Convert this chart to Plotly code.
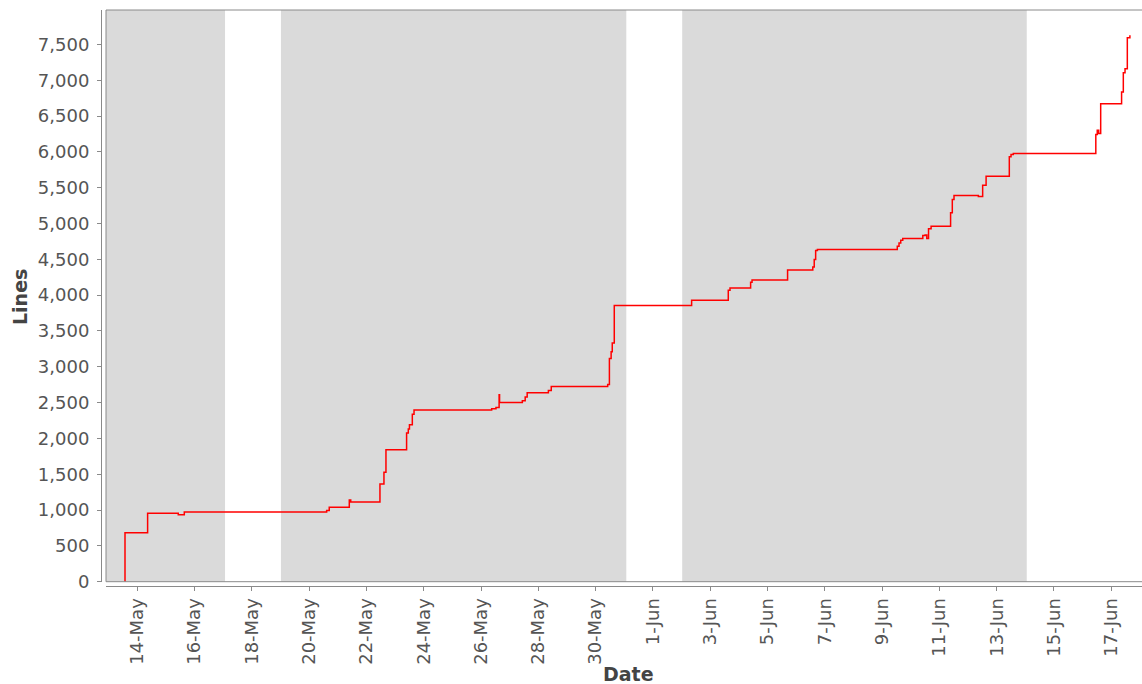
import plotly.graph_objects as go

# Step data: cumulative lines of code over time
times = [
    "2008-05-13 13:40", "2008-05-13 13:41", "2008-05-14 08:38", "2008-05-15 10:19",
    "2008-05-15 15:22", "2008-05-20 14:38", "2008-05-20 16:48", "2008-05-21 09:36",
    "2008-05-21 10:48", "2008-05-22 11:17", "2008-05-22 14:38", "2008-05-22 16:19",
    "2008-05-23 09:36", "2008-05-23 11:02", "2008-05-23 12:00", "2008-05-23 14:24",
    "2008-05-23 15:50", "2008-05-26 08:53", "2008-05-26 12:29", "2008-05-26 15:07",
    "2008-05-26 15:30", "2008-05-27 10:34", "2008-05-27 12:58", "2008-05-27 14:38",
    "2008-05-28 08:24", "2008-05-28 10:48", "2008-05-30 10:05", "2008-05-30 11:31",
    "2008-05-30 12:58", "2008-05-30 13:55", "2008-05-30 15:36", "2008-06-02 08:24",
    "2008-06-03 15:07", "2008-06-03 16:34", "2008-06-04 09:50", "2008-06-04 11:02",
    "2008-06-05 16:48", "2008-06-06 13:55", "2008-06-06 15:07", "2008-06-06 16:19",
    "2008-06-06 17:46", "2008-06-09 12:43", "2008-06-09 14:10", "2008-06-09 15:36",
    "2008-06-09 17:17", "2008-06-10 10:05", "2008-06-10 12:00", "2008-06-10 13:26",
    "2008-06-10 14:53", "2008-06-10 17:02", "2008-06-11 09:22", "2008-06-11 10:48",
    "2008-06-11 12:14", "2008-06-12 08:38", "2008-06-12 12:14", "2008-06-12 15:07",
    "2008-06-13 10:34", "2008-06-13 12:00", "2008-06-13 13:55", "2008-06-16 11:02",
    "2008-06-16 12:14", "2008-06-16 13:26", "2008-06-16 15:07", "2008-06-17 08:38",
    "2008-06-17 10:05", "2008-06-17 11:31", "2008-06-17 13:26", "2008-06-17 15:36",
]
lines = [
    0, 685, 956, 936,
    974, 995, 1040, 1142,
    1114, 1365, 1529, 1841,
    2074, 2130, 2190, 2339,
    2395, 2414, 2432, 2609,
    2502, 2525, 2577, 2637,
    2670, 2725, 2753, 3117,
    3210, 3332, 3857, 3927,
    4067, 4100, 4179, 4212,
    4352, 4394, 4496, 4622,
    4636, 4682, 4729, 4766,
    4790, 4832, 4841, 4790,
    4925, 4962, 5149, 5335,
    5391, 5377, 5535, 5661,
    5932, 5964, 5978, 6243,
    6303, 6257, 6672, 6835,
    7105, 7161, 7594, 7627,
]

# Weekday (shaded) periods
band_starts = ["2008-05-12 21:46", "2008-05-19 00:20", "2008-06-02 00:30"]
band_ends = ["2008-05-17 01:30", "2008-05-31 01:40", "2008-06-14 01:10"]

x_range = ["2008-05-12 21:46", "2008-06-18 01:44"]
y_range = [0, 7980]

x_title = "Date"
y_title = "Lines"

fig = go.Figure()
fig.add_trace(go.Scatter(
    x=times, y=lines, mode="lines", line=dict(color="#FF0000", width=1.5, shape="hv"),
    showlegend=False, hoverinfo="x+y",
))

shapes = []
for s, e in zip(band_starts, band_ends):
    shapes.append(dict(type="rect", xref="x", yref="y domain", x0=s, x1=e, y0=0, y1=1,
                       fillcolor="#DADADA", line=dict(width=0), layer="below"))
shapes.append(dict(type="rect", xref="x domain", yref="y domain", x0=0, x1=1.004, y0=0, y1=1,
                   line=dict(color="#8A8A8A", width=1), layer="above"))

tick_font = dict(family="DejaVu Sans", size=18, color="#555555")
title_font = dict(family="DejaVu Sans", size=19, color="#444444")

annotations = [
    dict(text=f"<b>{x_title}</b>", xref="paper", yref="paper", x=(628 - 101) / 1041,
         y=(586 - 674) / 576, xanchor="center", yanchor="middle", showarrow=False,
         font=title_font),
    dict(text=f"<b>{y_title}</b>", xref="paper", yref="paper", x=(20 - 101) / 1041,
         y=(586 - 297) / 576, xanchor="center", yanchor="middle", showarrow=False,
         textangle=-90, font=title_font),
]

fig.update_layout(
    width=1142, height=684,
    margin=dict(l=101, r=0, t=10, b=98),
    paper_bgcolor="white", plot_bgcolor="white",
    shapes=shapes, annotations=annotations,
    xaxis=dict(
        type="date", range=x_range, domain=[5 / 1041, 1],
        anchor="free", position=0, automargin=False,
        tick0="2008-05-14", dtick=2 * 86400000, tickformat="%-d-%b",
        tickangle=-90, ticks="outside", ticklen=4, tickcolor="#8A8A8A",
        showline=True, linecolor="#8A8A8A", linewidth=1,
        showgrid=False, zeroline=False, tickfont=tick_font,
    ),
    yaxis=dict(
        range=y_range, domain=[4.3 / 576, 1],
        anchor="free", position=0, automargin=False,
        dtick=500, tickformat=",d",
        ticks="outside", ticklen=4, tickcolor="#8A8A8A", ticklabelstandoff=4,
        showline=True, linecolor="#8A8A8A", linewidth=1,
        showgrid=False, zeroline=False, tickfont=tick_font,
    ),
)

fig.write_html("out.html", config={"displayModeBar": False},
               post_script="document.body.style.margin='0';")
